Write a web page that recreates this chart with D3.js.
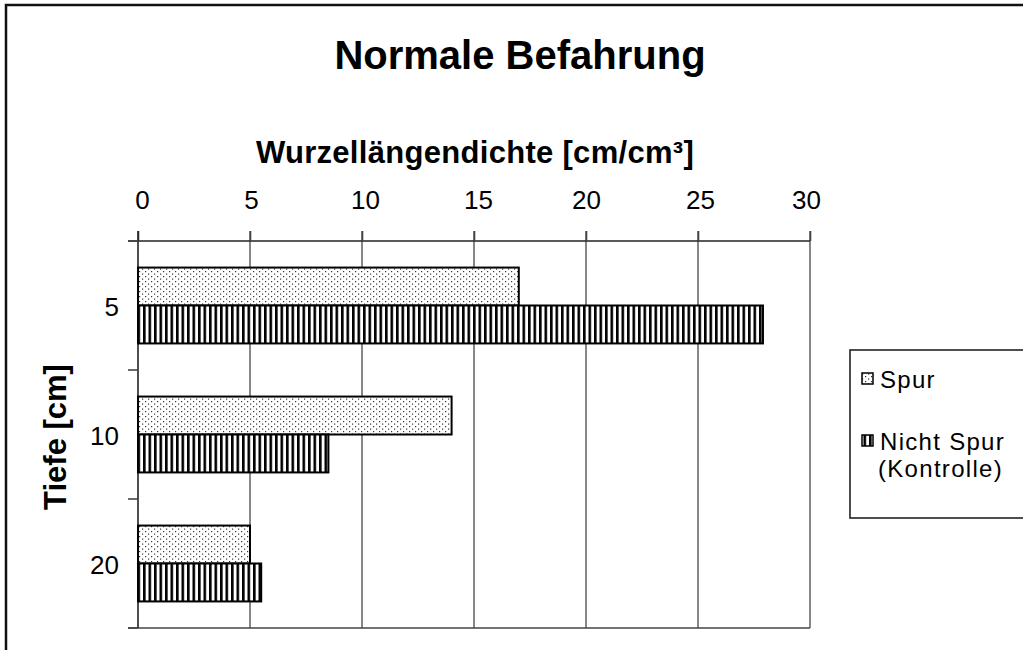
<!DOCTYPE html>
<html><head><meta charset="utf-8">
<script src="https://cdn.jsdelivr.net/npm/d3@7"></script>
<style>body{margin:0;background:#fff}svg{display:block;font-family:"Liberation Sans",Arial,sans-serif}</style>
</head><body>
<script>
const categories = ["5", "10", "20"];
const seriesNames = ["Spur", "Nicht Spur (Kontrolle)"];
const spur = [17, 14, 5];
const nichtSpur = [27.9, 8.5, 5.5];
const xTicks = [0, 5, 10, 15, 20, 25, 30];

const W = 1023, H = 650;
const svg = d3.select("body").append("svg").attr("width", W).attr("height", H);
const defs = svg.append("defs");
const dots = defs.append("pattern").attr("id","dots").attr("patternUnits","userSpaceOnUse").attr("width",6).attr("height",5);
dots.append("rect").attr("width",6).attr("height",5).attr("fill","#fff");
dots.append("rect").attr("x",1).attr("y",1).attr("width",1.2).attr("height",1.2).attr("fill","#333");
dots.append("rect").attr("x",4).attr("y",3.5).attr("width",1.2).attr("height",1.2).attr("fill","#333");
const stripes = defs.append("pattern").attr("id","stripes").attr("patternUnits","userSpaceOnUse").attr("width",5.5).attr("height",10);
stripes.append("rect").attr("width",5.5).attr("height",10).attr("fill","#fff");
stripes.append("rect").attr("x",0).attr("width",2.6).attr("height",10).attr("fill","#000");

// outer frame
svg.append("rect").attr("x",6).attr("y",5).attr("width",1030).attr("height",660).attr("fill","none").attr("stroke","#111").attr("stroke-width",2.5);

const m = {l:138, r:810, t:241, b:628};
const x = d3.scaleLinear().domain([0,30]).range([m.l, m.r]);
const y = d3.scaleBand().domain(categories).range([m.t, m.b]).padding(0);
const ys = d3.scaleBand().domain(seriesNames).range([0, y.bandwidth()]).paddingInner(0).paddingOuter(0.7);

// gridlines
svg.append("g").selectAll("line").data(xTicks.slice(1)).join("line")
  .attr("x1", d=>x(d)).attr("x2", d=>x(d)).attr("y1", m.t-10).attr("y2", m.b)
  .attr("stroke", "#7a7a7a").attr("stroke-width", 1.8);

// top axis
const xAxis = svg.append("g").attr("transform", `translate(0,${m.t})`)
  .call(d3.axisTop(x).tickValues(xTicks).tickSize(10).tickPadding(22))
  .attr("font-family", null).attr("font-size", null);
xAxis.select(".domain").attr("stroke","#222").attr("stroke-width",1.6).attr("d", `M${m.l-10},0H${m.r}`);
xAxis.selectAll(".tick line").attr("stroke","#444").attr("stroke-width",1.6);
xAxis.selectAll(".tick text").attr("font-size",26).attr("fill","#000")
  .attr("dx", (d,i)=> [4,1,3,4,0,2,-4][i]);

// bottom line
svg.append("line").attr("x1", m.l-10).attr("x2", m.r).attr("y1", m.b).attr("y2", m.b).attr("stroke","#444").attr("stroke-width",1.6);

// left axis
svg.append("line").attr("x1", m.l).attr("x2", m.l).attr("y1", m.t-10).attr("y2", m.b).attr("stroke","#222").attr("stroke-width",1.6);
const bounds = categories.map(c=>y(c)).concat([m.b]);
svg.append("g").selectAll("line").data(bounds).join("line")
  .attr("x1", m.l-10).attr("x2", m.l).attr("y1", d=>d).attr("y2", d=>d).attr("stroke","#444").attr("stroke-width",1.6);
svg.append("g").selectAll("text").data(categories).join("text")
  .attr("x", 119).attr("y", d=>y(d)+y.bandwidth()/2+10).attr("text-anchor","end").attr("font-size",26).text(d=>d);

// bars
const data = categories.map((c,i)=>({c, vals:[spur[i], nichtSpur[i]]}));
const fills = ["url(#dots)", "url(#stripes)"];
const g = svg.append("g");
data.forEach(d=>{
  d.vals.forEach((v,j)=>{
    g.append("rect").attr("x", x(0)).attr("y", y(d.c)+ys(seriesNames[j]))
      .attr("width", x(v)-x(0)).attr("height", ys.bandwidth())
      .attr("fill", fills[j]).attr("stroke","#000").attr("stroke-width",2);
  });
});

// titles
svg.append("text").attr("x", 520).attr("y", 69).attr("text-anchor","middle").attr("font-size",40).attr("font-weight","bold").text("Normale Befahrung");
svg.append("text").attr("x", 475).attr("y", 163).attr("text-anchor","middle").attr("font-size",31).attr("font-weight","bold").attr("letter-spacing",0.3).text("Wurzellängendichte [cm/cm³]");
svg.append("text").attr("transform","translate(66,437) rotate(-90)").attr("text-anchor","middle").attr("font-size",31).attr("font-weight","bold").text("Tiefe [cm]");

// legend
svg.append("rect").attr("x",850).attr("y",350).attr("width",200).attr("height",168).attr("fill","#fff").attr("stroke","#222").attr("stroke-width",1.6);
const leg = [{y:378, base:388, lines:["Spur"]}, {y:440, base:450, lines:["Nicht Spur","(Kontrolle)"]}];
leg.forEach((l,i)=>{
  svg.append("rect").attr("x",862).attr("y",l.y-5).attr("width",11).attr("height",11).attr("fill",fills[i]).attr("stroke","#000").attr("stroke-width",1.5);
  l.lines.forEach((t,k)=>{
    svg.append("text").attr("x", k===0?880:878).attr("y", l.base+k*27).attr("font-size",24).attr("letter-spacing",1.3).text(t);
  });
});
</script>
</body></html>
